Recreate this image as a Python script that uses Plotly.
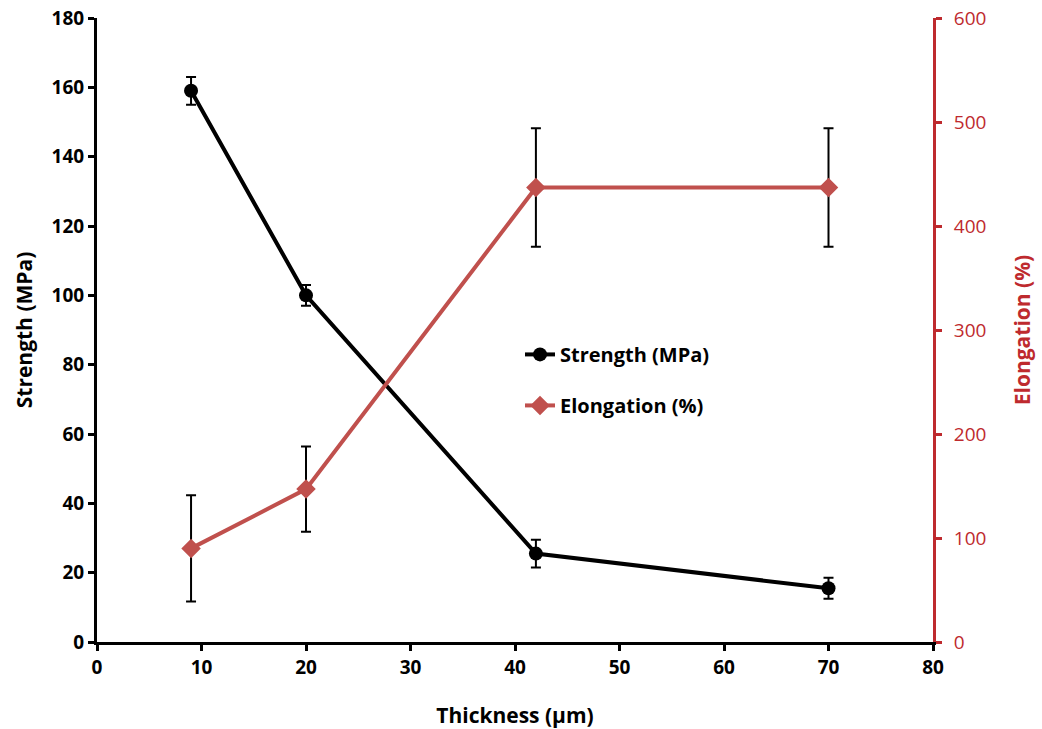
import plotly.graph_objects as go

thickness = [9, 20, 42, 70]
strength = [159, 100, 25.5, 15.5]
strength_err = [4, 3, 4, 3]
elongation = [90, 147, 437, 437]
elongation_err = [51, 41, 57, 57]

FONT = "Open Sans"
RED_LINE = "#C0504D"
RED_AXIS = "#BE2A2E"

fig = go.Figure()
fig.add_trace(go.Scatter(
    x=thickness, y=strength, name="Strength (MPa)", mode="lines+markers",
    line=dict(color="black", width=4),
    marker=dict(symbol="circle", size=14, color="black"),
    error_y=dict(type="data", array=strength_err, color="black", thickness=2, width=5),
    legendgroup="a", yaxis="y",
))
fig.add_trace(go.Scatter(
    x=thickness, y=elongation, name="Elongation (%)", mode="lines+markers",
    line=dict(color=RED_LINE, width=4),
    marker=dict(symbol="diamond", size=15, color=RED_LINE),
    error_y=dict(type="data", array=elongation_err, color="black", thickness=2, width=5),
    legendgroup="b", yaxis="y2",
))

tf = dict(family=FONT, size=19, color="black", weight="bold")

fig.update_layout(
    width=1042, height=729,
    margin=dict(l=97, r=109, t=18, b=87, autoexpand=False),
    paper_bgcolor="white", plot_bgcolor="white",
    font=dict(family=FONT, size=19, color="black"),
    xaxis=dict(
        range=[0, 80], dtick=10, showgrid=False, zeroline=False,
        showline=True, linecolor="black", linewidth=3,
        ticks="outside", ticklen=6, tickwidth=3, tickcolor="black",
        tickfont=tf, automargin=False,
        title=dict(text="Thickness (µm)", font=dict(family=FONT, size=21, weight="bold"), standoff=33),
    ),
    yaxis=dict(
        range=[0, 180], dtick=20, showgrid=False, zeroline=False,
        showline=True, linecolor="black", linewidth=3,
        ticks="outside", ticklen=6, tickwidth=3, tickcolor="black",
        tickfont=tf, automargin=False,
        title=dict(text="Strength (MPa)", font=dict(family=FONT, size=21, weight="bold"), standoff=14),
    ),
    yaxis2=dict(
        range=[0, 600], dtick=100, showgrid=False, zeroline=False,
        overlaying="y", side="right",
        showline=True, linecolor=RED_AXIS, linewidth=3,
        ticks="outside", ticklen=6, tickwidth=3, tickcolor=RED_AXIS,
        ticklabelstandoff=8,
        tickfont=dict(family=FONT, size=19, color=RED_AXIS, weight="normal"), automargin=False,
        title=dict(text="Elongation (%)", font=dict(family=FONT, size=21, color=RED_AXIS, weight="bold"), standoff=30),
    ),
    legend=dict(
        x=0.506, y=0.42, xanchor="left", yanchor="middle",
        bgcolor="rgba(0,0,0,0)", traceorder="grouped", tracegroupgap=22,
        font=dict(family=FONT, size=20, color="black", weight="bold"),
        itemwidth=30,
    ),
    showlegend=True,
)

fig.write_html("out.html")
